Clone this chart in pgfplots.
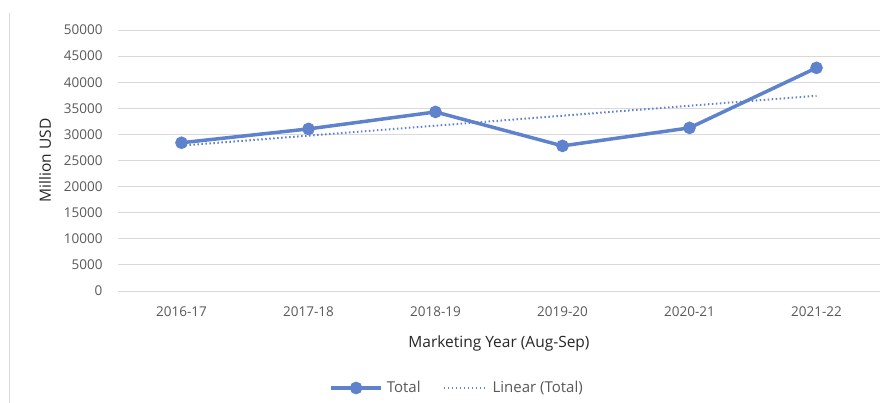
\documentclass[border=0pt]{standalone}
\usepackage{pgfplots}
\pgfplotsset{compat=1.18}
\usepackage{fontspec}
\setmainfont{Open Sans}
\definecolor{lineblue}{RGB}{95,130,205}
\definecolor{gridgray}{RGB}{217,217,217}
\definecolor{textgray}{RGB}{89,89,89}
\begin{document}
\begin{tikzpicture}[x=1pt,y=1pt]
\path[use as bounding box] (0,0) rectangle (883,403);
\draw[gridgray, line width=1pt] (9,0) -- (9,390);
\begin{axis}[
  at={(118pt,112pt)}, anchor=south west,
  scale only axis, width=762pt, height=261pt,
  xmin=-0.5, xmax=5.5, ymin=0, ymax=50000,
  xtick={0,1,2,3,4,5},
  xticklabels={2016-17,2017-18,2018-19,2019-20,2020-21,2021-22},
  ytick={0,5000,...,50000},
  scaled y ticks=false,
  /pgf/number format/assume math mode=true,
  yticklabel={\pgfmathprintnumber[fixed,1000 sep={}]{\tick}},
  ymajorgrids, grid style={gridgray, line width=0.8pt},
  axis line style={draw=none},
  major tick length=0pt,
  tick label style={font=\fontsize{13.5}{15}\selectfont, text=textgray},
  xticklabel style={yshift=-12pt},
  yticklabel style={xshift=-12pt},
  xlabel={Marketing Year (Aug-Sep)},
  ylabel={Million USD},
  label style={font=\fontsize{15.5}{17}\selectfont, text=black!85},
  xlabel style={at={(axis description cs:0.5,0)}, anchor=center, yshift=-52pt},
  ylabel style={at={(axis description cs:0,0.5)}, anchor=center, yshift=73pt},
  clip=false,
  legend style={at={(0.445,0)}, yshift=-97pt, anchor=center, draw=none, legend columns=2,
    font=\fontsize{15}{17}\selectfont, text=textgray, inner sep=0pt,
    /tikz/every odd column/.append style={column sep=2pt},
    /tikz/every even column/.append style={column sep=20pt}},
  legend cell align=left,
]
\addplot[lineblue, line width=3.5pt, mark=*, mark size=4.5pt,
  legend image code/.code={
    \draw[lineblue, line width=3.5pt] (0pt,0pt) -- (50pt,0pt);
    \fill[lineblue] (25pt,0pt) circle (4.5pt);}] coordinates {
 (0,28400) (1,31050) (2,34300) (3,27800) (4,31250) (5,42750)};
\addlegendentry{Total}
\addplot[lineblue, line width=2pt, dash pattern=on 1.5pt off 2.5pt,
  legend image code/.code={\draw[lineblue, line width=2pt, dash pattern=on 1.5pt off 2.5pt] (0pt,0pt) -- (44pt,0pt);}] coordinates {
 (0,27850) (5,37400)};
\addlegendentry{Linear (Total)}
\end{axis}
\end{tikzpicture}
\end{document}
